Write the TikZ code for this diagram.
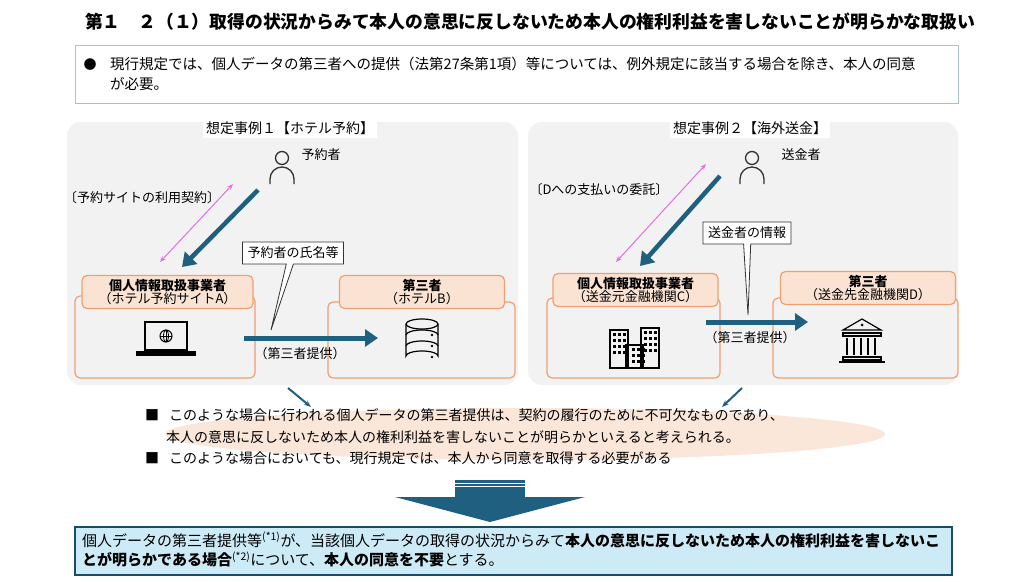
\documentclass[tikz,border=0pt]{standalone}
\usepackage{fontspec}
\setmainfont{Noto Sans CJK JP}
\usetikzlibrary{arrows.meta,shapes.callouts}
\definecolor{tb}{HTML}{1F5F80}
\definecolor{org}{HTML}{F0A070}
\definecolor{peach}{HTML}{FBE3D3}
\definecolor{pg}{HTML}{F2F2F2}
\definecolor{pink}{HTML}{E070E0}
\definecolor{lb}{HTML}{CDEBF7}
\newcommand{\fs}[1]{\fontsize{#1}{#1}\selectfont}
\begin{document}
\begin{tikzpicture}[x=1pt,y=-1pt,
 panel/.style={fill=pg,rounded corners=14pt,draw=none},
 ebox/.style={draw=org,line width=1.2pt,rounded corners=5pt,fill=pg},
 ehead/.style={draw=org,line width=1.2pt,rounded corners=5pt,fill=peach,align=center,font=\fs{13}},
 big/.style={draw=tb,line width=5pt,-{Triangle[length=13pt,width=17pt]}},
 small/.style={draw=tb,line width=2pt,-{Stealth[length=7pt]}},
 pk/.style={draw=pink,line width=1pt,{Stealth[length=6pt]}-{Stealth[length=6pt]}},
 call/.style={rectangle callout,draw=black!80,fill=white,line width=0.8pt,font=\fs{13},inner sep=5pt},
 lbl/.style={font=\fs{13}},
 ic/.style={line width=1.3pt}]
\useasboundingbox (0,0) rectangle (1032,581);
\fill[white] (0,0) rectangle (1032,581);
% title
\node[font=\bfseries\fs{17.8},anchor=center] (title) at (530,22) {第１　２（１）取得の状況からみて本人の意思に反しないため本人の権利利益を害しないことが明らかな取扱い};
% box1
\draw[draw=lb!60!gray,line width=0.8pt] (75,45) rectangle (958,103);
\node[font=\fs{13}] (bul) at (90,65) {●};
\node[anchor=north west,font=\fs{14.5},align=left,text width=850,inner sep=0pt] (intro) at (110,57) {現行規定では、個人データの第三者への提供（法第27条第1項）等については、例外規定に該当する場合を除き、本人の同意\\[5pt]が必要。};
% panels
\fill[panel] (67,122) rectangle (518,385);
\fill[panel] (528,122) rectangle (958,385);
\node[fill=white,font=\fs{14},inner sep=3pt] (p1) at (290,128) {想定事例１【ホテル予約】};
\node[fill=white,font=\fs{14},inner sep=3pt] (p2) at (750,128) {想定事例２【海外送金】};
% persons
\foreach \x/\n in {282/pa,752/pb}{
 \draw[ic,black!80] (\x,158) circle (6.5);
 \draw[ic,black!80] (\x-12,184) -- (\x-12,179) arc[start angle=180,end angle=360,radius=12] -- (\x+12,184);
 \coordinate (\n) at (\x,170);
}
\node[lbl,anchor=west] (pat) at (298,155) {予約者};
\node[lbl,anchor=west] (pbt) at (778,155) {送金者};
% left case
\node[lbl] (kei1) at (142,198) {〔予約サイトの利用契約〕};
\coordinate (k1a) at (160,262); \coordinate (k1b) at (233,184);
\draw[pk] (k1a) -- (k1b);
\coordinate (b1a) at (258,190); \coordinate (b1b) at (182,267);
\draw[big,line width=4.5pt] (b1a) -- (b1b);
\draw[ebox] (75,296) rectangle (255,378);
\node[ehead,minimum width=171,minimum height=33,inner sep=1pt] (ea) at (167.5,292) {\textbf{個人情報取扱事業者}\\（ホテル予約サイトA）};
\draw[ebox] (328,302) rectangle (515,378);
\node[ehead,minimum width=165,minimum height=33,inner sep=1pt] (eb) at (422,292) {\textbf{第三者}\\（ホテルB）};
% laptop
\draw[line width=2pt] (145,322) rectangle (187,350);
\draw[line width=1pt] (166,336) circle (6); \draw[line width=0.8pt] (160,336)--(172,336) (166,330)--(166,342);
\draw[line width=0.8pt] (166,336) ellipse (2.5 and 6);
\fill (136,351) rectangle (196,356);
% database
\begin{scope}[line width=1.2pt]
\draw (406,324) -- (406,356) arc[start angle=180,end angle=360,x radius=16,y radius=5] -- (438,324);
\draw (422,324) ellipse (16 and 5);
\draw (406,335) arc[start angle=180,end angle=360,x radius=16,y radius=5];
\draw (406,346) arc[start angle=180,end angle=360,x radius=16,y radius=5];
\foreach \yy in {335,346,357}{\fill (432,\yy) circle (1.3);}
\end{scope}
% arrow 1
\coordinate (t1a) at (244,338); \coordinate (t1b) at (378,338);
\draw[big] (t1a) -- (t1b);
\node[lbl] (tp1) at (300,354) {（第三者提供）};
\node[call,callout absolute pointer={(271,330)}] (c1) at (293,253) {予約者の氏名等};
% right case
\node[lbl] (kei2) at (599,190) {〔Dへの支払いの委託〕};
\coordinate (k2a) at (616,262); \coordinate (k2b) at (706,164);
\draw[pk] (k2a) -- (k2b);
\coordinate (b2a) at (720,176); \coordinate (b2b) at (640,266);
\draw[big,line width=4.5pt] (b2a) -- (b2b);
\draw[ebox] (547,298) rectangle (720,378);
\node[ehead,minimum width=165,minimum height=33,inner sep=1pt] (ec) at (635.5,290) {\textbf{個人情報取扱事業者}\\（送金元金融機関C）};
\draw[ebox] (773,298) rectangle (958,378);
\node[ehead,minimum width=175,minimum height=33,inner sep=1pt] (ed) at (868,288) {\textbf{第三者}\\（送金先金融機関D）};
% buildings
\begin{scope}[line width=1.3pt]
\draw (610,330) rectangle (628,368);
\draw (626,345) rectangle (643,368);
\draw (641,328) rectangle (659,368);
\foreach \bx/\by/\bw/\bh in {613/333/3/9,632/348/2/6,644/331/3/11}{
 \foreach \i in {0,1,2}{\foreach \j in {0,...,\bw}{
  \fill (\bx+\i*5,\by+\j*6) rectangle ++(3,3);}}}
\end{scope}
% bank
\begin{scope}[line width=1.2pt]
\draw (843,330) -- (862,319) -- (881,330) -- cycle;
\fill (862,325) circle (1.5);
\draw (843,333) rectangle (881,336);
\foreach \px in {847,854,861,868,875}{\draw (\px,338) -- (\px,355);}
\draw (843,357) rectangle (881,360);
\draw (839,362) -- (885,362);
\end{scope}
\coordinate (t2a) at (706,322); \coordinate (t2b) at (808,322);
\draw[big] (t2a) -- (t2b);
\node[lbl] (tp2) at (750,338) {（第三者提供）};
\node[call,callout absolute pointer={(748,315)}] (c2) at (747,233) {送金者の情報};
% small arrows
\coordinate (s1a) at (288,388); \coordinate (s1b) at (311,407);
\coordinate (s2a) at (742,388); \coordinate (s2b) at (722,407);
% ellipse
\fill[peach,opacity=0.85] (525,434) ellipse (360 and 26);
\draw[small] (s1a) -- (s1b);
\draw[small] (s2a) -- (s2b);
\node[font=\fs{14},anchor=west,inner sep=0pt] (m1) at (145,415) {■\hspace{10pt}このような場合に行われる個人データの第三者提供は、契約の履行のために不可欠なものであり、};
\node[font=\fs{14},anchor=west,inner sep=0pt] (m2) at (166,437) {本人の意思に反しないため本人の権利利益を害しないことが明らかといえると考えられる。};
\node[font=\fs{14},anchor=west,inner sep=0pt] (m3) at (145,458) {■\hspace{10pt}このような場合においても、現行規定では、本人から同意を取得する必要がある};
% big down arrow
\fill[tb] (455,480) rectangle (525,497);
\fill[tb] (395,497) -- (585,497) -- (490,522) -- cycle;
\draw[white,line width=0.6pt] (455,483)--(525,483) (455,486)--(525,486);
% bottom box
\draw[fill=lb,draw=tb!80!black,line width=1.5pt] (75,527) rectangle (952,575);
\node[anchor=north west,font=\fs{15},align=left,text width=870,inner sep=0pt] (fin) at (82,532) {個人データの第三者提供等\textsuperscript{(*1)}が、当該個人データの取得の状況からみて\textbf{本人の意思に反しないため本人の権利利益を害しないこ}\\[3pt]\textbf{とが明らかである場合}\textsuperscript{(*2)}について、\textbf{本人の同意を不要}とする。};
\end{tikzpicture}
\end{document}
